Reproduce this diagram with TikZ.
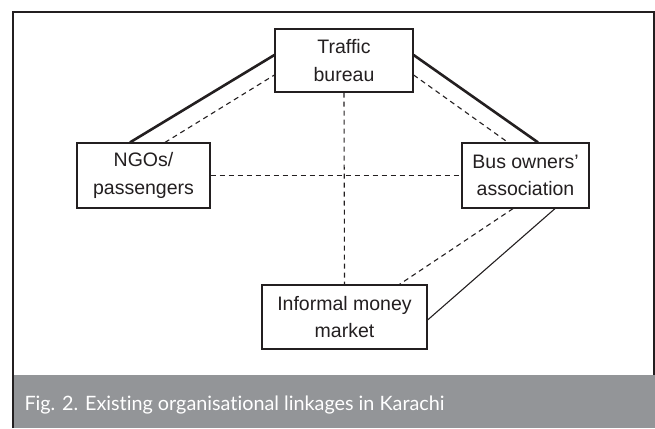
\documentclass[tikz,border=0pt]{standalone}
\usepackage{fontspec}
\setmainfont{Liberation Sans}
\newfontfamily\capfont[Ligatures=NoCommon]{Lato}
\usepackage{tikz}
\usetikzlibrary{positioning}
\usepackage{xcolor}
\definecolor{ink}{RGB}{35,31,32}
\definecolor{band}{RGB}{147,149,152}
\tikzset{
  box/.style={draw=ink,line width=1.2pt,fill=white,inner sep=0pt,
    font=\fontsize{19.5}{27.5}\selectfont,align=center,text=ink},
  strong/.style={line width=2.6pt,ink},
  weak/.style={line width=1.1pt,ink},
  dotted link/.style={line width=1.1pt,ink,dash pattern=on 5pt off 4pt},
}

\begin{document}
\begin{tikzpicture}[x=1pt,y=-1pt]
  \useasboundingbox (0,0) rectangle (655,428);
  % frame and caption band
  \fill[band] (14,375) rectangle (655,428);
  \draw[ink,line width=2.2pt] (13,428) -- (13,12) -- (654,12) -- (654,375);
  \node[anchor=base west,text=white,font=\capfont\fontsize{19.8}{22}\selectfont]
    (cap) at (21,410) {Fig. 2. Existing organisational linkages in Karachi};
  % organisations
  \node[box,minimum width=138pt,minimum height=63pt] (traffic) at (344,60.5) {Traffic\\bureau};
  \node[box,minimum width=133pt,minimum height=65pt] (ngo) at (143.5,175.5) {NGOs/\\passengers};
  \node[box,minimum width=127pt,minimum height=65pt] (bus) at (525.5,175.5) {Bus owners'\\association};
  \node[box,minimum width=165pt,minimum height=64pt] (money) at (344.5,317) {Informal money\\market};
  % linkages
  \draw[strong] ([xshift=-13.5pt]ngo.north) -- ([yshift=5.5pt]traffic.west);
  \draw[dotted link] ([xshift=21.5pt]ngo.north) -- ([yshift=-14.5pt]traffic.west);
  \draw[strong] ([yshift=5.5pt]traffic.east) -- ([xshift=12.5pt]bus.north);
  \draw[dotted link] ([yshift=-14.5pt]traffic.east) -- ([xshift=-17.5pt]bus.north);
  \draw[dotted link] (ngo.east) -- (bus.west);
  \draw[dotted link] (traffic.south) -- (money.north);
  \draw[dotted link] ([xshift=-12.5pt]bus.south) -- ([xshift=55pt]money.north);
  \draw[weak] ([xshift=29.5pt]bus.south) -- ([yshift=-3pt]money.east);
\end{tikzpicture}
\end{document}
